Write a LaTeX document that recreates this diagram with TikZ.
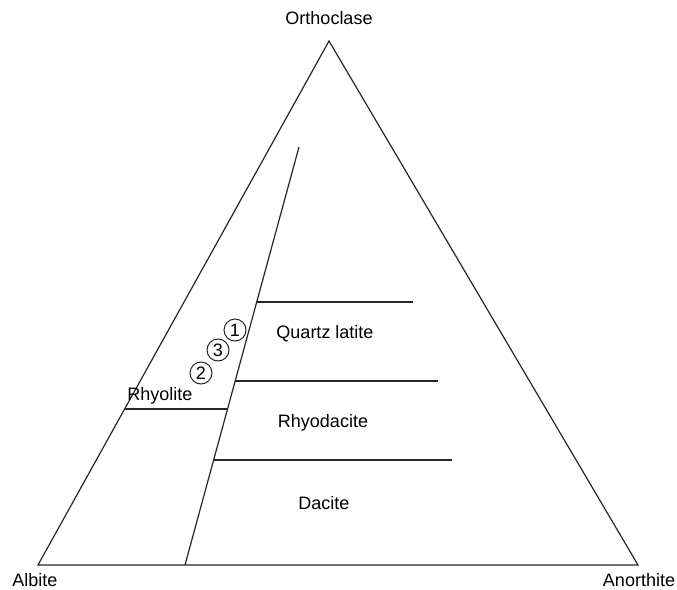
\documentclass[tikz,border=0pt]{standalone}
\usepackage{fontspec}
\setmainfont{Liberation Sans}
\begin{document}
\begin{tikzpicture}[x=1pt,y=-1pt,
  edge/.style={draw=black!85,line width=1.2pt},
  lbl/.style={font=\fontsize{18}{20}\selectfont,inner sep=0pt},
  num/.style={draw=black!85,circle,line width=1pt,minimum size=22pt,inner sep=0pt,font=\fontsize{18}{20}\selectfont}]
\useasboundingbox (0,0) rectangle (677,589);
\coordinate (T) at (329,41);
\coordinate (L) at (38,565);
\coordinate (R) at (638,565);
\coordinate (I1) at (299,147);
\coordinate (I2) at (185,565);
\draw[edge,line join=miter] (T) -- (L) -- (R) -- cycle;
\draw[edge] (I1) -- (I2);
% horizontal lines
\coordinate (h1a) at (256.7,302);
\coordinate (h1b) at (413,302);
\coordinate (h2a) at (235.2,381);
\coordinate (h2b) at (438,381);
\coordinate (h3a) at (213.6,460);
\coordinate (h3b) at (452,460);
\coordinate (rha) at (124.6,409);
\coordinate (rhb) at (227.6,409);
\draw[edge] (h1a) -- (h1b);
\draw[edge] (h2a) -- (h2b);
\draw[edge] (h3a) -- (h3b);
\draw[edge] (rha) -- (rhb);
% labels
\node[lbl] (orth) at (329,18) {Orthoclase};
\node[lbl] (alb) at (35,580) {Albite};
\node[lbl] (ano) at (639,580) {Anorthite};
\node[lbl] (ql) at (325,334) {Quartz latite};
\node[lbl] (rd) at (323,423) {Rhyodacite};
\node[lbl] (dc) at (324,503) {Dacite};
\node[lbl] (rh) at (160,396) {Rhyolite};
\node[num] (n1) at (235,330) {1};
\node[num] (n3) at (218,350) {3};
\node[num] (n2) at (201,373) {2};
\end{tikzpicture}
\end{document}
